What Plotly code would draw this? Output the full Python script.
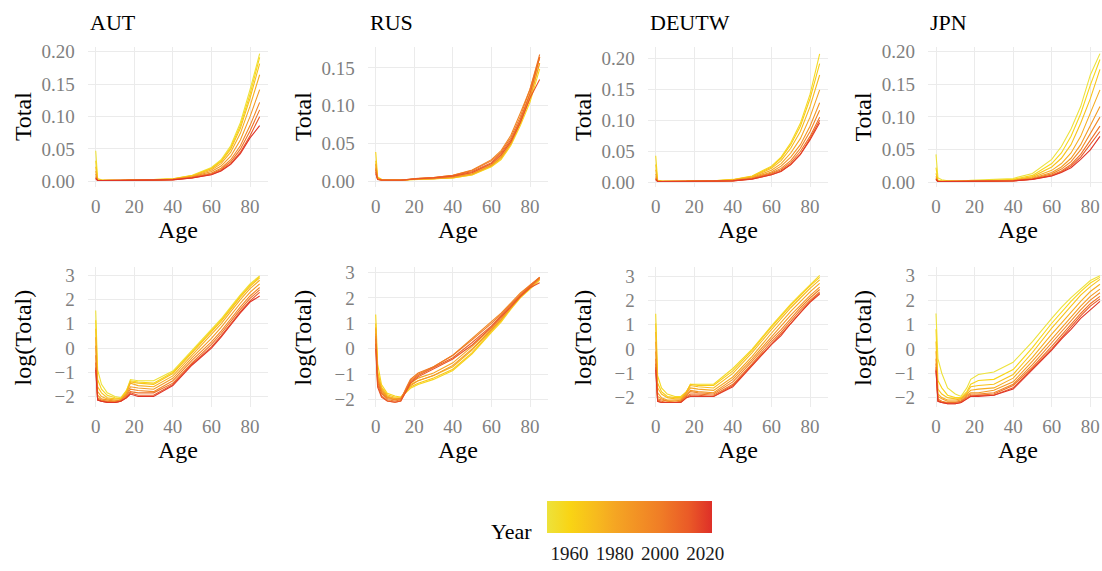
import plotly.graph_objects as go
from plotly.colors import sample_colorscale

# ---------------- data ----------------
AGES = [0, 1, 3, 6, 10, 13, 16, 18, 22, 30, 40, 50, 60, 65, 70, 75, 80, 85]
COUNTRIES = ["AUT", "RUS", "DEUTW", "JPN"]

AUT_YEARS = [1950, 1959, 1968, 1977, 1986, 1995, 2004, 2013, 2022]
AUT_TOTAL = [
    [0.0471, 0.0041, 0.0022, 0.0016, 0.0014, 0.0013, 0.0017, 0.0027, 0.0026, 0.0026, 0.0039, 0.0091, 0.0212, 0.0332, 0.0547, 0.0903, 0.1415, 0.1970],
    [0.0316, 0.0027, 0.0018, 0.0014, 0.0013, 0.0012, 0.0017, 0.0026, 0.0025, 0.0024, 0.0037, 0.0086, 0.0201, 0.0316, 0.0521, 0.0859, 0.1346, 0.1911],
    [0.0223, 0.0020, 0.0016, 0.0013, 0.0012, 0.0012, 0.0017, 0.0025, 0.0024, 0.0022, 0.0035, 0.0082, 0.0192, 0.0300, 0.0495, 0.0817, 0.1281, 0.1817],
    [0.0157, 0.0017, 0.0014, 0.0012, 0.0012, 0.0012, 0.0016, 0.0024, 0.0021, 0.0020, 0.0032, 0.0074, 0.0173, 0.0272, 0.0448, 0.0739, 0.1159, 0.1644],
    [0.0111, 0.0014, 0.0012, 0.0012, 0.0011, 0.0012, 0.0015, 0.0020, 0.0019, 0.0018, 0.0029, 0.0067, 0.0149, 0.0234, 0.0386, 0.0636, 0.0997, 0.1415],
    [0.0074, 0.0013, 0.0012, 0.0011, 0.0011, 0.0012, 0.0014, 0.0018, 0.0017, 0.0017, 0.0026, 0.0061, 0.0128, 0.0201, 0.0332, 0.0547, 0.0859, 0.1218],
    [0.0055, 0.0012, 0.0011, 0.0011, 0.0011, 0.0011, 0.0014, 0.0017, 0.0016, 0.0016, 0.0024, 0.0055, 0.0116, 0.0182, 0.0300, 0.0495, 0.0777, 0.1102],
    [0.0045, 0.0012, 0.0011, 0.0011, 0.0011, 0.0011, 0.0013, 0.0016, 0.0014, 0.0014, 0.0022, 0.0052, 0.0105, 0.0165, 0.0272, 0.0448, 0.0703, 0.0997],
    [0.0041, 0.0012, 0.0011, 0.0011, 0.0011, 0.0011, 0.0013, 0.0015, 0.0014, 0.0014, 0.0021, 0.0050, 0.0100, 0.0157, 0.0259, 0.0426, 0.0669, 0.0859],
]
AUT_LOG = [
    [1.55, -0.90, -1.50, -1.85, -2.00, -2.05, -1.75, -1.30, -1.35, -1.35, -0.95, -0.10, 0.75, 1.20, 1.70, 2.20, 2.65, 2.98],
    [1.15, -1.30, -1.70, -1.95, -2.05, -2.10, -1.75, -1.35, -1.40, -1.45, -1.00, -0.15, 0.70, 1.15, 1.65, 2.15, 2.60, 2.95],
    [0.80, -1.60, -1.85, -2.05, -2.10, -2.10, -1.80, -1.40, -1.45, -1.50, -1.05, -0.20, 0.65, 1.10, 1.60, 2.10, 2.55, 2.90],
    [0.45, -1.80, -2.00, -2.10, -2.15, -2.15, -1.85, -1.45, -1.55, -1.60, -1.15, -0.30, 0.55, 1.00, 1.50, 2.00, 2.45, 2.80],
    [0.10, -1.95, -2.10, -2.15, -2.20, -2.15, -1.90, -1.60, -1.65, -1.70, -1.25, -0.40, 0.40, 0.85, 1.35, 1.85, 2.30, 2.65],
    [-0.30, -2.05, -2.15, -2.20, -2.20, -2.15, -1.95, -1.70, -1.75, -1.80, -1.35, -0.50, 0.25, 0.70, 1.20, 1.70, 2.15, 2.50],
    [-0.60, -2.10, -2.20, -2.20, -2.25, -2.20, -2.00, -1.80, -1.85, -1.85, -1.45, -0.60, 0.15, 0.60, 1.10, 1.60, 2.05, 2.40],
    [-0.80, -2.15, -2.20, -2.25, -2.25, -2.20, -2.05, -1.85, -1.95, -1.95, -1.50, -0.65, 0.05, 0.50, 1.00, 1.50, 1.95, 2.30],
    [-0.90, -2.15, -2.20, -2.25, -2.25, -2.20, -2.05, -1.90, -2.00, -2.00, -1.55, -0.70, 0.00, 0.45, 0.95, 1.45, 1.90, 2.15],
]

RUS_YEARS = [1959, 1966, 1973, 1980, 1987, 1994, 2001, 2008, 2014]
RUS_TOTAL = [
    [0.0386, 0.0055, 0.0025, 0.0017, 0.0016, 0.0015, 0.0018, 0.0021, 0.0025, 0.0030, 0.0043, 0.0082, 0.0192, 0.0286, 0.0471, 0.0739, 0.1049, 0.1488],
    [0.0272, 0.0041, 0.0022, 0.0017, 0.0015, 0.0015, 0.0019, 0.0022, 0.0026, 0.0032, 0.0045, 0.0086, 0.0201, 0.0300, 0.0495, 0.0777, 0.1102, 0.1564],
    [0.0234, 0.0037, 0.0021, 0.0016, 0.0014, 0.0014, 0.0020, 0.0025, 0.0029, 0.0035, 0.0050, 0.0095, 0.0212, 0.0316, 0.0495, 0.0777, 0.1159, 0.1644],
    [0.0223, 0.0033, 0.0020, 0.0015, 0.0014, 0.0014, 0.0020, 0.0026, 0.0032, 0.0039, 0.0058, 0.0111, 0.0223, 0.0332, 0.0521, 0.0817, 0.1159, 0.1644],
    [0.0182, 0.0030, 0.0019, 0.0015, 0.0014, 0.0014, 0.0019, 0.0024, 0.0029, 0.0035, 0.0052, 0.0100, 0.0212, 0.0316, 0.0495, 0.0777, 0.1102, 0.1564],
    [0.0165, 0.0030, 0.0018, 0.0014, 0.0014, 0.0014, 0.0021, 0.0029, 0.0037, 0.0050, 0.0078, 0.0149, 0.0286, 0.0406, 0.0605, 0.0903, 0.1218, 0.1644],
    [0.0149, 0.0027, 0.0017, 0.0014, 0.0013, 0.0014, 0.0022, 0.0030, 0.0039, 0.0050, 0.0078, 0.0142, 0.0272, 0.0386, 0.0576, 0.0859, 0.1218, 0.1678],
    [0.0122, 0.0025, 0.0016, 0.0013, 0.0012, 0.0013, 0.0020, 0.0027, 0.0035, 0.0047, 0.0071, 0.0128, 0.0246, 0.0367, 0.0547, 0.0817, 0.1159, 0.1644],
    [0.0100, 0.0022, 0.0015, 0.0013, 0.0012, 0.0013, 0.0019, 0.0026, 0.0033, 0.0045, 0.0067, 0.0116, 0.0234, 0.0349, 0.0521, 0.0777, 0.1102, 0.1346],
]
RUS_LOG = [
    [1.35, -0.60, -1.40, -1.75, -1.85, -1.90, -1.70, -1.55, -1.40, -1.20, -0.85, -0.20, 0.65, 1.05, 1.55, 2.00, 2.35, 2.70],
    [1.00, -0.90, -1.50, -1.80, -1.90, -1.90, -1.65, -1.50, -1.35, -1.15, -0.80, -0.15, 0.70, 1.10, 1.60, 2.05, 2.40, 2.75],
    [0.85, -1.00, -1.55, -1.85, -1.95, -1.95, -1.60, -1.40, -1.25, -1.05, -0.70, -0.05, 0.75, 1.15, 1.60, 2.05, 2.45, 2.80],
    [0.80, -1.10, -1.60, -1.90, -1.95, -1.95, -1.60, -1.35, -1.15, -0.95, -0.55, 0.10, 0.80, 1.20, 1.65, 2.10, 2.45, 2.80],
    [0.60, -1.20, -1.65, -1.90, -2.00, -2.00, -1.65, -1.45, -1.25, -1.05, -0.65, 0.00, 0.75, 1.15, 1.60, 2.05, 2.40, 2.75],
    [0.50, -1.20, -1.70, -1.95, -2.00, -1.95, -1.55, -1.25, -1.00, -0.70, -0.25, 0.40, 1.05, 1.40, 1.80, 2.20, 2.50, 2.80],
    [0.40, -1.30, -1.75, -2.00, -2.05, -2.00, -1.50, -1.20, -0.95, -0.70, -0.25, 0.35, 1.00, 1.35, 1.75, 2.15, 2.50, 2.82],
    [0.20, -1.40, -1.85, -2.05, -2.10, -2.05, -1.60, -1.30, -1.05, -0.75, -0.35, 0.25, 0.90, 1.30, 1.70, 2.10, 2.45, 2.80],
    [0.00, -1.50, -1.90, -2.05, -2.10, -2.05, -1.65, -1.35, -1.10, -0.80, -0.40, 0.15, 0.85, 1.25, 1.65, 2.05, 2.40, 2.60],
]

DEUTW_YEARS = [1956, 1964, 1972, 1980, 1988, 1996, 2004, 2012, 2020]
DEUTW_TOTAL = [
    [0.0426, 0.0033, 0.0020, 0.0016, 0.0014, 0.0014, 0.0017, 0.0024, 0.0024, 0.0024, 0.0045, 0.0100, 0.0259, 0.0406, 0.0636, 0.0949, 0.1415, 0.2070],
    [0.0286, 0.0025, 0.0017, 0.0014, 0.0014, 0.0014, 0.0017, 0.0024, 0.0022, 0.0022, 0.0041, 0.0095, 0.0246, 0.0386, 0.0605, 0.0903, 0.1346, 0.1911],
    [0.0201, 0.0020, 0.0016, 0.0014, 0.0013, 0.0013, 0.0017, 0.0022, 0.0021, 0.0020, 0.0037, 0.0086, 0.0223, 0.0349, 0.0547, 0.0817, 0.1218, 0.1729],
    [0.0135, 0.0017, 0.0014, 0.0012, 0.0012, 0.0012, 0.0017, 0.0020, 0.0019, 0.0018, 0.0032, 0.0074, 0.0192, 0.0300, 0.0471, 0.0703, 0.1049, 0.1488],
    [0.0091, 0.0014, 0.0013, 0.0012, 0.0012, 0.0012, 0.0016, 0.0018, 0.0017, 0.0017, 0.0029, 0.0067, 0.0165, 0.0259, 0.0406, 0.0605, 0.0903, 0.1281],
    [0.0067, 0.0013, 0.0012, 0.0012, 0.0011, 0.0012, 0.0015, 0.0017, 0.0017, 0.0016, 0.0026, 0.0061, 0.0149, 0.0223, 0.0349, 0.0547, 0.0817, 0.1159],
    [0.0055, 0.0012, 0.0012, 0.0011, 0.0011, 0.0012, 0.0014, 0.0016, 0.0016, 0.0015, 0.0024, 0.0055, 0.0135, 0.0201, 0.0316, 0.0495, 0.0739, 0.1049],
    [0.0047, 0.0012, 0.0011, 0.0011, 0.0011, 0.0011, 0.0014, 0.0015, 0.0015, 0.0014, 0.0022, 0.0052, 0.0122, 0.0182, 0.0286, 0.0448, 0.0703, 0.0997],
    [0.0043, 0.0012, 0.0011, 0.0011, 0.0011, 0.0011, 0.0014, 0.0014, 0.0014, 0.0014, 0.0021, 0.0050, 0.0120, 0.0173, 0.0286, 0.0448, 0.0682, 0.0958],
]
DEUTW_LOG = [
    [1.45, -1.10, -1.60, -1.85, -1.95, -1.95, -1.75, -1.45, -1.45, -1.45, -0.80, 0.00, 0.95, 1.40, 1.85, 2.25, 2.65, 3.03],
    [1.05, -1.40, -1.75, -1.95, -2.00, -2.00, -1.75, -1.45, -1.50, -1.50, -0.90, -0.05, 0.90, 1.35, 1.80, 2.20, 2.60, 2.95],
    [0.70, -1.60, -1.85, -2.00, -2.05, -2.05, -1.75, -1.50, -1.55, -1.60, -1.00, -0.15, 0.80, 1.25, 1.70, 2.10, 2.50, 2.85],
    [0.30, -1.80, -2.00, -2.10, -2.10, -2.10, -1.80, -1.60, -1.65, -1.70, -1.15, -0.30, 0.65, 1.10, 1.55, 1.95, 2.35, 2.70],
    [-0.10, -1.95, -2.05, -2.15, -2.15, -2.10, -1.85, -1.70, -1.75, -1.80, -1.25, -0.40, 0.50, 0.95, 1.40, 1.80, 2.20, 2.55],
    [-0.40, -2.05, -2.10, -2.15, -2.20, -2.15, -1.90, -1.75, -1.80, -1.85, -1.35, -0.50, 0.40, 0.80, 1.25, 1.70, 2.10, 2.45],
    [-0.60, -2.10, -2.15, -2.20, -2.20, -2.15, -1.95, -1.85, -1.85, -1.90, -1.45, -0.60, 0.30, 0.70, 1.15, 1.60, 2.00, 2.35],
    [-0.75, -2.15, -2.20, -2.20, -2.20, -2.20, -2.00, -1.90, -1.90, -1.95, -1.50, -0.65, 0.20, 0.60, 1.05, 1.50, 1.95, 2.30],
    [-0.85, -2.15, -2.20, -2.20, -2.20, -2.20, -2.00, -1.95, -1.95, -1.95, -1.55, -0.70, 0.18, 0.55, 1.05, 1.50, 1.92, 2.26],
]

JPN_YEARS = [1950, 1959, 1968, 1977, 1986, 1995, 2004, 2013, 2022]
JPN_TOTAL = [
    [0.0426, 0.0067, 0.0037, 0.0020, 0.0016, 0.0014, 0.0020, 0.0029, 0.0035, 0.0039, 0.0058, 0.0135, 0.0349, 0.0547, 0.0817, 0.1159, 0.1644, 0.1970],
    [0.0223, 0.0027, 0.0020, 0.0015, 0.0014, 0.0014, 0.0017, 0.0024, 0.0027, 0.0029, 0.0043, 0.0105, 0.0286, 0.0448, 0.0703, 0.1049, 0.1488, 0.1880],
    [0.0135, 0.0019, 0.0016, 0.0014, 0.0013, 0.0013, 0.0017, 0.0021, 0.0022, 0.0024, 0.0035, 0.0086, 0.0234, 0.0367, 0.0576, 0.0903, 0.1281, 0.1729],
    [0.0091, 0.0016, 0.0014, 0.0012, 0.0012, 0.0013, 0.0016, 0.0018, 0.0019, 0.0020, 0.0030, 0.0071, 0.0182, 0.0286, 0.0448, 0.0703, 0.1049, 0.1415],
    [0.0067, 0.0014, 0.0013, 0.0012, 0.0012, 0.0012, 0.0015, 0.0017, 0.0017, 0.0018, 0.0026, 0.0061, 0.0149, 0.0234, 0.0367, 0.0576, 0.0859, 0.1159],
    [0.0055, 0.0013, 0.0012, 0.0011, 0.0011, 0.0012, 0.0014, 0.0016, 0.0016, 0.0017, 0.0024, 0.0052, 0.0128, 0.0201, 0.0316, 0.0495, 0.0739, 0.0997],
    [0.0047, 0.0012, 0.0011, 0.0011, 0.0011, 0.0012, 0.0014, 0.0015, 0.0015, 0.0016, 0.0022, 0.0047, 0.0111, 0.0173, 0.0272, 0.0426, 0.0636, 0.0859],
    [0.0043, 0.0012, 0.0011, 0.0011, 0.0011, 0.0011, 0.0013, 0.0014, 0.0015, 0.0015, 0.0020, 0.0045, 0.0100, 0.0157, 0.0246, 0.0386, 0.0576, 0.0777],
    [0.0041, 0.0012, 0.0011, 0.0011, 0.0011, 0.0011, 0.0013, 0.0014, 0.0014, 0.0015, 0.0019, 0.0043, 0.0095, 0.0149, 0.0223, 0.0349, 0.0495, 0.0703],
]
JPN_LOG = [
    [1.45, -0.40, -1.00, -1.60, -1.85, -1.95, -1.60, -1.25, -1.05, -0.95, -0.55, 0.30, 1.25, 1.70, 2.10, 2.45, 2.80, 3.00],
    [0.80, -1.30, -1.60, -1.90, -2.00, -2.00, -1.75, -1.45, -1.30, -1.25, -0.85, 0.05, 1.05, 1.50, 1.95, 2.35, 2.70, 2.93],
    [0.30, -1.65, -1.85, -2.00, -2.05, -2.05, -1.80, -1.55, -1.50, -1.45, -1.05, -0.15, 0.85, 1.30, 1.75, 2.20, 2.55, 2.85],
    [-0.10, -1.85, -2.00, -2.10, -2.10, -2.05, -1.85, -1.70, -1.65, -1.60, -1.20, -0.35, 0.60, 1.05, 1.50, 1.95, 2.35, 2.65],
    [-0.40, -1.95, -2.05, -2.15, -2.15, -2.10, -1.90, -1.80, -1.80, -1.70, -1.35, -0.50, 0.40, 0.85, 1.30, 1.75, 2.15, 2.45],
    [-0.60, -2.05, -2.15, -2.20, -2.20, -2.15, -1.95, -1.85, -1.85, -1.80, -1.45, -0.65, 0.25, 0.70, 1.15, 1.60, 2.00, 2.30],
    [-0.75, -2.10, -2.20, -2.20, -2.20, -2.15, -2.00, -1.90, -1.90, -1.85, -1.50, -0.75, 0.10, 0.55, 1.00, 1.45, 1.85, 2.15],
    [-0.85, -2.15, -2.20, -2.25, -2.25, -2.20, -2.05, -1.95, -1.90, -1.90, -1.60, -0.80, 0.00, 0.45, 0.90, 1.35, 1.75, 2.05],
    [-0.90, -2.15, -2.20, -2.25, -2.25, -2.20, -2.05, -1.95, -1.95, -1.90, -1.65, -0.85, -0.05, 0.40, 0.80, 1.25, 1.60, 1.95],
]

YEAR_MIN, YEAR_MAX = 1950, 2023
COLORBAR_TICKS = [1960, 1980, 2000, 2020]
AGE_TICKS = [0, 20, 40, 60, 80]
TOTAL_TICKS = {
    "AUT": [0.0, 0.05, 0.10, 0.15, 0.20],
    "RUS": [0.0, 0.05, 0.10, 0.15],
    "DEUTW": [0.0, 0.05, 0.10, 0.15, 0.20],
    "JPN": [0.0, 0.05, 0.10, 0.15, 0.20],
}
LOG_TICKS = [-2, -1, 0, 1, 2, 3]

DATA = {
    "AUT": (AUT_YEARS, AUT_TOTAL, AUT_LOG),
    "RUS": (RUS_YEARS, RUS_TOTAL, RUS_LOG),
    "DEUTW": (DEUTW_YEARS, DEUTW_TOTAL, DEUTW_LOG),
    "JPN": (JPN_YEARS, JPN_TOTAL, JPN_LOG),
}

# ---------------- styling / layout ----------------
W, H = 1102, 571
FONT = "Liberation Serif"
GRID = "#EBEBEB"
TICK_GREY = "#7F7F7F"
COLORSCALE = [
    [0.00, "#EDE23B"], [0.14, "#F9D414"], [0.30, "#F7BA1E"], [0.41, "#F5A623"],
    [0.68, "#F07E26"], [0.86, "#EA5A27"], [1.00, "#DE2F28"],
]

COL_LEFT = [87.5, 367.5, 647.5, 927.8]
COL_RIGHT = [268.0, 548.0, 828.0, 1102.0]
PX_PER_AGE = 1.929
ROW_TOP = [42.0, 267.0]
ROW_BOT = [185.0, 410.0]
Y_RANGE = {
    ("AUT", 0): [-0.0091, 0.2071], ("RUS", 0): [-0.0078, 0.1776],
    ("DEUTW", 0): [-0.0079, 0.2178], ("JPN", 0): [-0.0075, 0.2070],
    ("AUT", 1): [-2.45, 3.33], ("RUS", 1): [-2.30, 3.20],
    ("DEUTW", 1): [-2.40, 3.36], ("JPN", 1): [-2.40, 3.34],
}


def px_x(p):
    return p / W


def px_y(p):
    return 1 - p / H


def year_color(y):
    t = (y - YEAR_MIN) / (YEAR_MAX - YEAR_MIN)
    return sample_colorscale(COLORSCALE, [min(max(t, 0), 1)])[0]


fig = go.Figure()
layout = {}
annotations = []

for r in range(2):
    for c, country in enumerate(COUNTRIES):
        k = r * 4 + c + 1
        xa = "x" if k == 1 else f"x{k}"
        ya = "y" if k == 1 else f"y{k}"
        years, total, logv = DATA[country]
        series = total if r == 0 else logv
        for yr, vals in zip(years, series):
            fig.add_trace(go.Scatter(
                x=AGES, y=vals, mode="lines", xaxis=xa, yaxis=ya,
                line=dict(color=year_color(yr), width=1.1),
                showlegend=False, hoverinfo="skip",
            ))
        x_lo = -4.25
        x_hi = x_lo + (COL_RIGHT[c] - COL_LEFT[c]) / PX_PER_AGE
        layout[f"xaxis{k}"] = dict(
            domain=[px_x(COL_LEFT[c]), px_x(COL_RIGHT[c])], anchor=ya,
            range=[x_lo, x_hi], tickvals=AGE_TICKS, showgrid=True, gridcolor=GRID,
            gridwidth=1.2, zeroline=False, showline=False, ticks="outside", ticklen=2,
            tickcolor="rgba(0,0,0,0)",
            tickfont=dict(family=FONT, size=19, color=TICK_GREY),
        )
        yticks = TOTAL_TICKS[country] if r == 0 else LOG_TICKS
        layout[f"yaxis{k}"] = dict(
            domain=[px_y(ROW_BOT[r]), px_y(ROW_TOP[r])], anchor=xa,
            range=Y_RANGE[(country, r)], tickvals=yticks,
            tickformat=".2f" if r == 0 else "d",
            showgrid=True, gridcolor=GRID, gridwidth=1.2, zeroline=False, showline=False,
            ticks="outside", ticklen=8, tickcolor="rgba(0,0,0,0)",
            tickfont=dict(family=FONT, size=19, color=TICK_GREY),
        )
        # axis titles
        cx = COL_LEFT[c] + 90.2
        annotations.append(dict(
            text="Age", x=px_x(cx), y=px_y(ROW_BOT[r] + 44), xref="paper", yref="paper",
            xanchor="center", yanchor="middle", showarrow=False,
            font=dict(family=FONT, size=24, color="#000000"),
        ))
        annotations.append(dict(
            text="Total" if r == 0 else "log(Total)",
            x=px_x(COL_LEFT[c] - 64.5), y=px_y((ROW_TOP[r] + ROW_BOT[r]) / 2),
            xref="paper", yref="paper", xanchor="center", yanchor="middle",
            textangle=-90, showarrow=False,
            font=dict(family=FONT, size=24, color="#000000"),
        ))
        if r == 0:
            annotations.append(dict(
                text=country, x=px_x(COL_LEFT[c]), y=px_y(17), xref="paper", yref="paper",
                xanchor="left", yanchor="middle", showarrow=False,
                font=dict(family=FONT, size=22, color="#000000"),
            ))

# colour bar (Year)
fig.add_trace(go.Scatter(
    x=[None], y=[None], mode="markers", showlegend=False, hoverinfo="skip",
    marker=dict(
        color=[YEAR_MIN], colorscale=COLORSCALE, cmin=YEAR_MIN, cmax=YEAR_MAX,
        showscale=True,
        colorbar=dict(
            orientation="h", x=px_x(629.5), xanchor="center",
            y=px_y(506), yanchor="top", len=165, lenmode="pixels",
            thickness=32, thicknessmode="pixels", outlinewidth=0,
            xpad=0, ypad=0, tickvals=COLORBAR_TICKS, ticks="outside",
            ticklen=5, tickcolor="rgba(255,255,255,0)",
            tickfont=dict(family=FONT, size=19, color="#1A1A1A"),
        ),
    ),
))
annotations.append(dict(
    text="Year", x=px_x(534), y=px_y(537), xref="paper", yref="paper",
    xanchor="right", yanchor="middle", showarrow=False,
    font=dict(family=FONT, size=22, color="#000000"),
))

fig.update_layout(
    width=W, height=H, margin=dict(l=0, r=0, t=0, b=0),
    paper_bgcolor="white", plot_bgcolor="white",
    annotations=annotations, **layout,
)

fig.write_html("out.html", config={"displayModeBar": False})
